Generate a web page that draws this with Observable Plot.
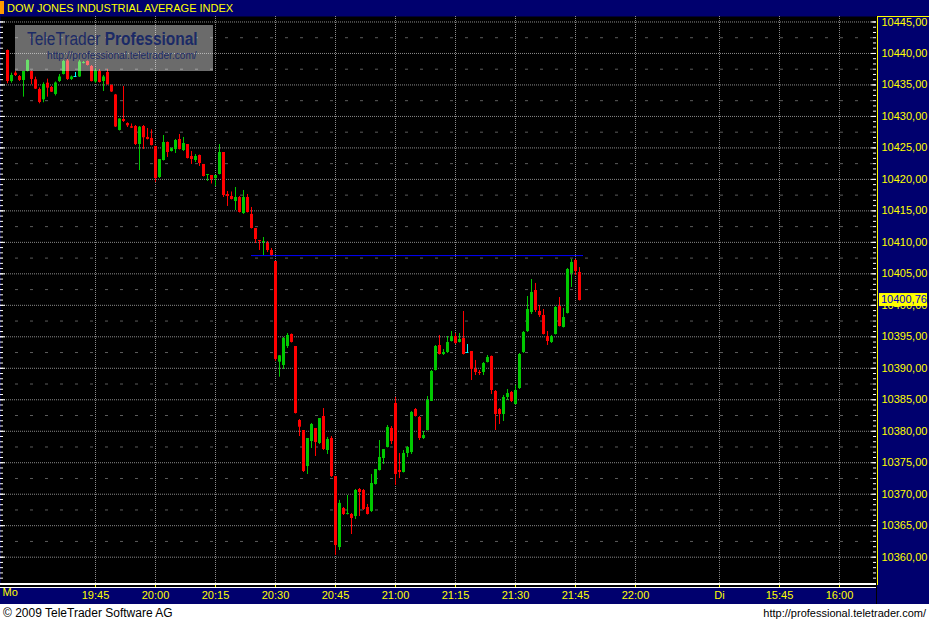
<!DOCTYPE html>
<html><head><meta charset="utf-8">
<script src="https://cdn.jsdelivr.net/npm/d3@7"></script>
<script src="https://cdn.jsdelivr.net/npm/@observablehq/plot@0.6"></script>
<style>
html,body{margin:0;padding:0;background:#fff;}
#wrap{position:relative;width:929px;height:622px;overflow:hidden;font-family:"Liberation Sans",Arial,sans-serif;}
#title{height:16px;background:#00006e;position:relative;}
#title .blk{position:absolute;left:0;top:1px;width:4px;height:13px;background:#ff9900;}
#title .txt{position:absolute;left:7px;top:1px;color:#ffff00;font-size:11px;line-height:14px;white-space:nowrap;}
#chart svg{display:block;}
#footer{height:18px;background:#fff;position:relative;font-size:12px;color:#000;}
#footer .l{position:absolute;left:3px;top:2px;line-height:14px;white-space:nowrap;}
#footer .r{position:absolute;right:3px;top:2px;line-height:14px;font-size:11px;white-space:nowrap;}
#wm{position:absolute;left:15px;top:25px;width:198px;height:46px;background:rgba(255,255,255,0.42);}
#wm .t1{position:absolute;left:12px;top:5px;font-size:18px;line-height:18px;color:#1b2a66;white-space:nowrap;transform:scaleX(0.86);transform-origin:0 0;}
#wm .t2{position:absolute;left:32px;top:25px;font-size:11px;line-height:11px;color:#1b2a66;white-space:nowrap;transform:scaleX(0.92);transform-origin:0 0;}
</style></head>
<body>
<div id="wrap">
  <div id="title"><div class="blk"></div><div class="txt">DOW JONES INDUSTRIAL AVERAGE INDEX</div></div>
  <div id="chart"></div>
  <div id="footer"><span class="l">© 2009 TeleTrader Software AG</span><span class="r">http://professional.teletrader.com/</span></div>
  <div id="wm"><div class="t1">TeleTrader <b>Professional</b></div><div class="t2">http://professional.teletrader.com/</div></div>
</div>
<script>
// ---- data: 1-minute bars, first bar at 19:23 (minute offset from 19:45) ----
const firstMinute = -22;
const open = [
10440.47,10435.55,10436.87,10436.34,10435.71,10437.14,10437.14,10435.82,10434.28,10432.64,
10435.28,10434.60,10433.49,10435.55,10436.66,10438.81,10435.87,10436.34,10436.26,10438.41,
10438.73,10437.93,10435.47,10437.14,10435.55,10436.98,10434.92,10433.41,10427.77,10429.51,
10428.88,10428.36,10428.40,10425.54,10428.40,10426.66,10426.50,10425.23,10420.30,10423.00,
10425.86,10424.43,10424.75,10426.34,10424.59,10425.54,10423.64,10423.00,10423.80,10422.37,
10420.62,10420.62,10420.14,10420.78,10424.27,10417.60,10417.28,10416.49,10417.12,10414.58,
10417.12,10414.43,10412.20,10410.29,10409.98,10409.82,10408.71,10406.96,10390.97,10390.44,
10393.46,10395.37,10393.46,10381.71,10380.12,10374.40,10378.37,10380.44,10378.05,10382.34,
10376.94,10378.85,10372.81,10361.53,10367.73,10366.78,10366.78,10366.46,10370.75,10370.59,
10367.89,10367.25,10371.54,10373.77,10375.67,10377.42,10380.44,10384.41,10373.77,10373.45,
10376.47,10376.62,10383.45,10382.18,10378.85,10380.12,10384.72,10389.65,10393.62,10392.19,
10392.51,10394.25,10395.05,10394.10,10394.73,10392.51,10392.67,10389.81,10389.33,10389.33,
10390.92,10391.87,10386.31,10383.45,10382.66,10385.36,10386.15,10384.25,10386.79,10392.51,
10395.84,10398.86,10402.35,10399.02,10398.38,10395.05,10394.10,10395.37,10399.81,10396.48,
10398.70,10405.05,10407.12,10405.21];
const high = [
10440.55,10436.87,10437.14,10436.50,10437.14,10438.97,10437.22,10436.23,10434.52,10435.34,
10435.92,10434.76,10435.47,10436.66,10438.89,10439.04,10436.42,10436.98,10438.89,10438.73,
10438.81,10438.09,10437.61,10437.46,10436.50,10437.46,10435.00,10433.49,10429.59,10434.76,
10428.99,10428.80,10428.56,10428.40,10428.56,10428.08,10427.88,10425.23,10423.16,10426.97,
10425.94,10424.99,10426.34,10427.13,10426.66,10425.54,10424.43,10423.95,10423.87,10422.37,
10420.78,10420.62,10420.62,10425.54,10424.27,10418.08,10418.00,10418.71,10417.28,10418.24,
10417.60,10415.54,10412.20,10410.29,10410.77,10410.13,10409.02,10406.96,10392.03,10394.89,
10395.52,10395.45,10393.46,10381.86,10380.12,10378.85,10381.23,10380.44,10382.02,10383.61,
10379.01,10379.16,10372.81,10369.02,10367.89,10369.80,10366.94,10370.75,10370.91,10370.75,
10368.37,10373.13,10373.92,10378.53,10377.10,10380.91,10380.75,10385.36,10376.47,10376.94,
10377.58,10383.14,10383.61,10382.34,10379.96,10385.52,10389.65,10393.62,10395.21,10392.98,
10395.05,10395.84,10395.52,10395.52,10399.02,10393.78,10392.67,10391.24,10389.65,10390.92,
10392.03,10391.95,10386.47,10383.61,10385.68,10386.63,10386.31,10387.26,10392.35,10395.84,
10401.40,10404.10,10403.47,10399.97,10399.34,10395.84,10395.21,10399.81,10401.24,10399.49,
10405.85,10407.28,10407.28,10406.00];
const low = [
10435.18,10435.28,10436.34,10435.55,10433.06,10437.06,10435.03,10434.28,10432.01,10432.17,
10433.06,10433.80,10433.25,10435.39,10436.58,10435.71,10435.71,10436.26,10436.19,10438.33,
10438.01,10435.47,10435.23,10435.31,10433.96,10435.00,10433.80,10428.24,10427.69,10429.04,
10428.24,10428.08,10425.38,10421.41,10424.75,10426.26,10425.31,10419.51,10420.14,10422.92,
10423.48,10424.35,10424.11,10424.67,10424.43,10423.24,10422.37,10422.68,10422.05,10420.38,
10419.67,10419.27,10418.87,10420.70,10417.12,10415.70,10416.73,10415.06,10414.66,10414.43,
10414.66,10412.12,10409.82,10408.71,10407.91,10408.39,10407.83,10391.08,10388.58,10389.81,
10393.14,10394.02,10382.74,10379.16,10373.45,10373.13,10377.26,10375.99,10377.89,10376.94,
10376.31,10372.65,10360.27,10361.06,10366.62,10366.70,10363.60,10365.98,10366.46,10367.41,
10366.70,10367.09,10371.46,10373.69,10374.72,10377.34,10377.89,10371.38,10372.49,10373.37,
10375.83,10376.31,10382.26,10378.53,10378.69,10380.04,10384.72,10389.57,10392.11,10392.03,
10392.35,10394.17,10393.78,10394.02,10392.11,10392.51,10388.06,10388.85,10388.85,10388.85,
10390.84,10385.84,10380.12,10381.07,10381.55,10384.88,10384.56,10384.17,10386.63,10392.35,
10395.68,10398.54,10398.86,10398.07,10395.29,10393.62,10393.94,10395.29,10396.56,10396.40,
10398.62,10402.83,10404.74,10400.70];
const close = [
10435.55,10436.50,10436.50,10435.71,10437.14,10438.89,10435.87,10434.33,10432.21,10435.07,
10434.49,10433.85,10435.31,10436.26,10438.73,10435.87,10436.26,10436.34,10438.65,10438.57,
10438.09,10435.55,10437.22,10435.39,10436.26,10435.03,10433.88,10428.32,10429.59,10429.20,
10428.51,10428.13,10425.54,10428.29,10426.61,10426.34,10425.38,10420.14,10423.16,10425.86,
10424.27,10424.91,10426.18,10424.75,10425.70,10423.32,10423.16,10423.64,10422.52,10420.46,
10420.78,10419.98,10420.62,10424.27,10417.44,10417.28,10416.81,10417.12,10414.74,10417.12,
10414.74,10412.20,10410.45,10410.13,10410.13,10408.71,10407.91,10391.40,10391.98,10394.73,
10395.21,10394.10,10382.82,10380.64,10373.61,10378.85,10381.07,10378.21,10382.02,10377.10,
10378.69,10372.81,10361.85,10368.54,10366.78,10366.94,10366.14,10370.59,10370.27,10367.57,
10366.78,10371.70,10373.92,10375.83,10377.10,10380.60,10378.37,10373.13,10373.45,10376.47,
10377.42,10382.98,10382.34,10378.85,10379.32,10384.88,10389.49,10393.46,10392.19,10392.51,
10394.10,10395.05,10393.94,10394.57,10392.19,10392.51,10389.81,10389.33,10389.17,10390.76,
10391.71,10386.47,10382.66,10382.66,10385.36,10385.99,10384.72,10386.47,10392.19,10395.68,
10399.34,10402.04,10399.18,10398.38,10395.37,10394.25,10395.05,10399.65,10396.64,10398.07,
10405.69,10406.80,10405.37,10400.76];

const lastPriceLabel = "10400,76";
const refLevel = [10407.9];          // blue horizontal line
const refSpan = [39, 122];           // minutes from 19:45

const xTickPos = [0, 15, 30, 45, 60, 75, 90, 105, 120, 135, 156, 171, 186];
const xTickLabels = ["19:45","20:00","20:15","20:30","20:45","21:00","21:15","21:30","21:45","22:00","Di","15:45","16:00"];
const dayLabel = ["Mo"];
const yTicks = [10360,10365,10370,10375,10380,10385,10390,10395,10400,10405,10410,10415,10420,10425,10430,10435,10440,10445];
const yTickLabels = ["10360,00","10365,00","10370,00","10375,00","10380,00","10385,00","10390,00","10395,00","10400,00","10405,00","10410,00","10415,00","10420,00","10425,00","10430,00","10435,00","10440,00","10445,00"];

// ---- build ----
const GREEN = "#00c800", RED = "#ff0000", CYAN = "#00ffff", YEL = "#ffff00";
const candles = open.map((o, i) => ({m: firstMinute + i, open: o, high: high[i], low: low[i], close: close[i]}));
const colorOf = d => d.close > d.open ? GREEN : d.close < d.open ? RED : CYAN;
const bodies = candles.filter(d => d.close !== d.open);
const dojis = candles.filter(d => d.close === d.open);
const yMinorGrid = yTicks.slice(0, -1).map(v => v + 2.5);
const ruler = d3.range(0, 110).map(k => 10445 - k * 5 / 6).filter(v => v > 10355.9);
const PW = 876;
const xDomain = [-23.75, 195.25];
const yDomain = [10355.82, 10445.87];

const chart = Plot.plot({
  width: 929, height: 588,
  marginLeft: 0, marginRight: 929 - PW, marginTop: 0, marginBottom: 21,
  style: {background: "#00006e", fontFamily: "'Liberation Sans', Arial, sans-serif", fontSize: "11px", overflow: "visible"},
  x: {domain: xDomain},
  y: {domain: yDomain},
  color: {type: "identity"},
  marks: [
    Plot.frame({fill: "black"}),
    Plot.ruleY(yMinorGrid, {stroke: "#5c5c5c", strokeDasharray: "3,12"}),
    Plot.ruleY(yTicks, {stroke: "#8a8a8a", strokeDasharray: "1,1"}),
    Plot.ruleX(xTickPos, {stroke: "#8a8a8a", strokeDasharray: "1,1"}),
    Plot.ruleY(refLevel, {x1: refSpan[0], x2: refSpan[1], stroke: "#0000ff"}),
    Plot.ruleX(candles, {x: "m", y1: "low", y2: "high", stroke: colorOf}),
    Plot.ruleX(bodies, {x: "m", y1: "open", y2: "close", stroke: colorOf, strokeWidth: 3}),
    Plot.ruleY(dojis, {y: "close", x1: d => d.m - 0.375, x2: d => d.m + 0.375, stroke: CYAN}),
    // edge rulers
    Plot.tickY(ruler, {y: d => d, stroke: "white", insetRight: PW - 3}),
    Plot.tickY(yTicks, {y: d => d, stroke: "white", insetRight: PW - 5}),
    Plot.tickY(ruler, {y: d => d, stroke: "white", insetLeft: PW - 3}),
    Plot.tickY(yTicks, {y: d => d, stroke: "white", insetLeft: PW - 5}),
    // bottom double line
    Plot.ruleY([yDomain[0]], {stroke: "black", strokeWidth: 4, dy: 2.5}),
    Plot.axisX({anchor: "bottom", ticks: xTickPos, tickSize: 4, tickPadding: 4, stroke: YEL, fill: YEL,
      fontSize: 11, label: null, tickFormat: d => xTickLabels[xTickPos.indexOf(d)]}),
    Plot.ruleY([yDomain[0]], {stroke: "white", strokeWidth: 2, dy: 0.5}),
    Plot.ruleY([yDomain[0]], {stroke: "white", strokeWidth: 1, dy: 4}),
    Plot.text(dayLabel, {frameAnchor: "bottom-left", text: d => d, dx: 2, dy: 12, fill: YEL, textAnchor: "start", fontSize: 11}),
    Plot.axisY({anchor: "right", ticks: yTicks, tickSize: 0, tickPadding: 5, fill: YEL, fontSize: 11,
      label: null, tickFormat: d => yTickLabels[yTicks.indexOf(d)]})
  ]
});
document.getElementById("chart").appendChild(chart);

// right panel borders and last-price box
const svg = d3.select(chart);
const ys = chart.scale("y").apply(close[close.length - 1]);
svg.append("rect").attr("x", PW).attr("y", 0).attr("width", 1).attr("height", 588).attr("fill", "black");
svg.append("line").attr("x1", PW + 1.5).attr("x2", PW + 1.5).attr("y1", 0).attr("y2", 569).attr("stroke", YEL);
svg.append("line").attr("x1", PW + 1).attr("x2", 929).attr("y1", 0.5).attr("y2", 0.5).attr("stroke", YEL);
svg.append("rect").attr("x", PW + 3).attr("y", ys - 7).attr("width", 48).attr("height", 13).attr("fill", YEL);
svg.append("text").attr("x", PW + 5).attr("y", ys - 0.5).attr("dy", "0.35em").attr("fill", "#0000c8")
  .attr("text-anchor", "start").attr("font-size", 11).text(lastPriceLabel);
</script>
</body></html>
